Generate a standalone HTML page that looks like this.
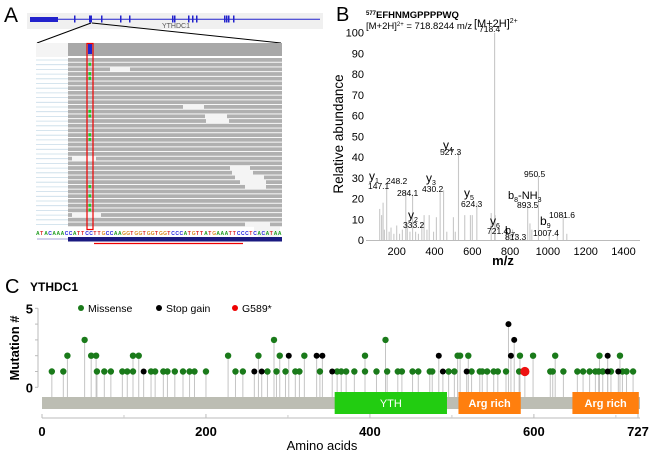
<!DOCTYPE html>
<html><head><meta charset="utf-8"><style>
html,body{margin:0;padding:0;background:#fff;}
svg{display:block;font-family:"Liberation Sans",Arial,sans-serif;}
</style></head><body>
<svg id="fig" width="650" height="457" viewBox="0 0 650 457" xmlns="http://www.w3.org/2000/svg">
<!-- Panel A -->
<g id="panelA">
<text x="4" y="22" font-size="21">A</text>
<rect x="27" y="13" width="296" height="16" fill="#f0f0f0"/>
<line x1="30" y1="19.3" x2="320" y2="19.3" stroke="#2222cc" stroke-width="1"/>
<rect x="30" y="17" width="28" height="5" fill="#2222cc"/>
<g id="exons"></g>
<text x="176" y="28" font-size="7" fill="#555" text-anchor="middle">YTHDC1</text>
<line x1="91" y1="23" x2="37" y2="43" stroke="#000" stroke-width="1"/>
<line x1="92" y1="23" x2="281" y2="43" stroke="#000" stroke-width="1"/>
<rect x="36" y="43" width="32" height="14" fill="#f4f4f4"/>
<rect x="68" y="43" width="214" height="13" fill="#a8a8a8"/>
<rect x="88" y="44" width="4" height="10" fill="#2222cc"/>
<g id="reads"></g>
<g id="seq"></g>
<rect x="68" y="237" width="214" height="4.5" fill="#1a1a80"/>
<line x1="37" y1="239" x2="68" y2="239" stroke="#8888cc" stroke-width="0.8"/>
<rect x="87" y="43.5" width="6" height="186" fill="none" stroke="#e00" stroke-width="1.2"/>
<line x1="94" y1="243.5" x2="243" y2="243.5" stroke="#e00" stroke-width="1.2"/>
</g>
<!-- Panel B -->
<g id="panelB">
<text x="336" y="21" font-size="20">B</text>
<text x="366" y="18" font-size="9.5" font-weight="bold"><tspan font-size="6" dy="-3">577</tspan><tspan dy="3">EFHNMGPPPPWQ</tspan></text>
<text x="366" y="29" font-size="9.5">[M+2H]<tspan font-size="6" dy="-3">2+</tspan><tspan dy="3"> = 718.8244 m/z</tspan></text>
<g id="peaks"></g>
<g id="baxes"></g>
<text transform="translate(343,134) rotate(-90)" font-size="13.5" text-anchor="middle">Relative abundance</text>
<text x="503" y="265" font-size="13" font-weight="bold" text-anchor="middle">m/z</text>
<g font-size="11">
<text x="474" y="27" font-size="11">[M+2H]<tspan font-size="7" dy="-4">2+</tspan></text>
<text x="479" y="32" font-size="8.5">718.4</text>
<text x="443" y="149" font-size="12">y<tspan font-size="7" dy="3">4</tspan></text>
<text x="440" y="155" font-size="8.5">527.3</text>
<text x="369" y="180" font-size="12">y<tspan font-size="7" dy="3">1</tspan></text>
<text x="368" y="189" font-size="8.5">147.1</text>
<text x="386" y="184" font-size="8.5">248.2</text>
<text x="397" y="196" font-size="8.5">284.1</text>
<text x="426" y="182" font-size="12">y<tspan font-size="7" dy="3">3</tspan></text>
<text x="422" y="192" font-size="8.5">430.2</text>
<text x="464" y="197" font-size="12">y<tspan font-size="7" dy="3">5</tspan></text>
<text x="461" y="207" font-size="8.5">624.3</text>
<text x="408" y="219" font-size="12">y<tspan font-size="7" dy="3">2</tspan></text>
<text x="403" y="228" font-size="8.5">333.2</text>
<text x="524" y="177" font-size="8.5">950.5</text>
<text x="508" y="199" font-size="11">b<tspan font-size="7" dy="3">8</tspan><tspan dy="-3">-NH</tspan><tspan font-size="7" dy="3">3</tspan></text>
<text x="517" y="208" font-size="8.5">893.5</text>
<text x="490" y="225" font-size="12">y<tspan font-size="7" dy="3">6</tspan></text>
<text x="487" y="234" font-size="8.5">721.4</text>
<text x="505" y="234" font-size="11">b<tspan font-size="7" dy="3">7</tspan></text>
<text x="505" y="240" font-size="8.5">813.3</text>
<text x="540" y="225" font-size="12">b<tspan font-size="7" dy="3">9</tspan></text>
<text x="533" y="236" font-size="8.5">1007.4</text>
<text x="549" y="218" font-size="8.5">1081.6</text>
</g>
</g>
<!-- Panel C -->
<g id="panelC">
<text x="5" y="293" font-size="20">C</text>
<text x="30" y="291" font-size="12" font-weight="bold">YTHDC1</text>
<text transform="translate(19,348) rotate(-90)" font-size="13" font-weight="bold" text-anchor="middle">Mutation #</text>
<g id="caxes"></g>
<rect x="42" y="397" width="598" height="12" fill="#bcbdb3"/>
<g id="lollis"></g>
<g id="domains"></g>
<g font-size="10.5">
<circle cx="81" cy="308" r="3" fill="#1a7a1a"/>
<text x="88" y="312">Missense</text>
<circle cx="159" cy="308" r="3" fill="#000"/>
<text x="166" y="312">Stop gain</text>
<circle cx="235" cy="308" r="3" fill="#e00"/>
<text x="242" y="312">G589*</text>
</g>
<text x="322" y="450" font-size="13" text-anchor="middle">Amino acids</text>
</g>
</svg>
<script>
const NS="http://www.w3.org/2000/svg";
function mk(tag,attrs,parent){const e=document.createElementNS(NS,tag);for(const k in attrs)e.setAttribute(k,attrs[k]);parent.appendChild(e);return e;}
// ---------- Panel B data ----------
const mzValues=[110,120,128,135,147,160,170,185,200,215,230,248,256,270,284,300,315,333,345,360,372,395,410,430,448,465,500,510,527,560,590,600,624,700,718,721,780,800,813,830,893,905,915,950,1007,1050,1081,1100];
const intensities=[15,12,18,5,25,4,6,3,7,3,5,24,8,4,22,4,3,8,12,5,12,4,11,23,24,4,11,4,43,12,12,12,18,13,100,12,5,4,5,3,16,8,5,31,4,5,12,3];
const bYTicks=[0,10,20,30,40,50,60,70,80,90,100];
const bXTicks=[200,400,600,800,1000,1200,1400];
const bx=mz=>396.7+(mz-200)*0.189;
const by=v=>240-v*2.073;
const peaks=document.getElementById('peaks');
for(let i=0;i<mzValues.length;i++){
  const l=mk('line',{x1:bx(mzValues[i]),x2:bx(mzValues[i]),y1:240,y2:by(intensities[i]),stroke:'#c8c8c8','stroke-width':1.1},peaks);
  
  
}
const baxes=document.getElementById('baxes');
const bxl=mk('line',{x1:366,x2:640,y1:240.5,y2:240.5,stroke:'#bbb','stroke-width':1},baxes);


bYTicks.forEach(t=>{
  const tx=mk('text',{x:364,y:by(t)+4,'font-size':11,'text-anchor':'end'},baxes);tx.textContent=t;
  
  
});
bXTicks.forEach(t=>{
  const tx=mk('text',{x:bx(t),y:255,'font-size':11,'text-anchor':'middle'},baxes);tx.textContent=t;
  
  
});
// ---------- Panel C data ----------
const missenseL1=[12,26,67,76,84,98,104,111,133,138,148,153,162,172,180,186,200,236,245,275,286,297,309,314,339,360,365,371,381,394,408,421,434,439,452,459,473,476,496,503,524,534,537,543,551,556,566,582,620,623,636,653,660,668,675,679,684,694,708,713,721];
const missenseL2=[31,60,66,111,118,227,264,290,320,394,507,510,520,583,599,626,680,705];
const missenseL3=[52,283,419];
const stopL1=[124,259,268,354,489,518,690,703];
const stopL2=[301,335,342,484,572,690];
const stopL3=[576];
const stopL4=[569];
const redPos=[589];
const redCount=[1];
const cXTicks=[0,200,400,600,727];
const cMinorTicks=[100,300,500,700];
const cYTicks=[0,1,2,3,4,5];
const domainNames=['YTH','Arg rich','Arg rich'];
const domainStart=[357,508,647];
const domainEnd=[494,584,728];
const domainColors=['#22cc11','#ff7f0e','#ff7f0e'];
const cx=aa=>42+aa*(596/727);
const cy=v=>387.3-v*15.8;
const caxes=document.getElementById('caxes');
const cyl=mk('line',{x1:38,x2:38,y1:cy(5),y2:cy(0),stroke:'#bbb','stroke-width':1},caxes);


cYTicks.forEach(t=>{
  const tk=mk('line',{x1:35,x2:38,y1:cy(t),y2:cy(t),stroke:'#bbb'},caxes);
  
  
  if(t===0||t===5){const tx=mk('text',{x:33,y:cy(t)+5,'font-size':13,'font-weight':'bold','text-anchor':'end'},caxes);tx.textContent=t;
  
  }
});
const cxl=mk('line',{x1:42,x2:640,y1:418,y2:418,stroke:'#bbb','stroke-width':1},caxes);


cXTicks.forEach(t=>{
  const tk=mk('line',{x1:cx(t),x2:cx(t),y1:414,y2:418,stroke:'#bbb'},caxes);
  
  
  const tx=mk('text',{x:cx(t),y:436,'font-size':13,'font-weight':'bold','text-anchor':'middle'},caxes);tx.textContent=t;
  
  
});
cMinorTicks.forEach(t=>{
  const tk=mk('line',{x1:cx(t),x2:cx(t),y1:415,y2:418,stroke:'#ccc'},caxes);
  
  
});
const dom=document.getElementById('domains');
for(let i=0;i<domainNames.length;i++){
  const r=mk('rect',{x:cx(domainStart[i]),y:392,width:cx(domainEnd[i])-cx(domainStart[i]),height:22,fill:domainColors[i]},dom);
  
  
  const tx=mk('text',{x:(cx(domainStart[i])+cx(domainEnd[i]))/2,y:407,'font-size':11,fill:'#fff','text-anchor':'middle','font-weight':i?'bold':'normal'},dom);tx.textContent=domainNames[i];
  
  
}
const lol=document.getElementById('lollis');
function draw(arr,level,color,r,name){
  arr.forEach(aa=>{
    const s=mk('line',{x1:cx(aa),x2:cx(aa),y1:397,y2:cy(level),stroke:'#c4c4c4','stroke-width':1},lol);
    
    
  });
  arr.forEach(aa=>{
    const c=mk('circle',{cx:cx(aa),cy:cy(level),r:r,fill:color},lol);
    
    
  });
}
draw(stopL4,4,'#000',3,'stop-gain-dot');
draw(stopL3,3,'#000',3,'stop-gain-dot');
draw(missenseL3,3,'#1a7a1a',3.2,'missense-dot');
draw(missenseL2,2,'#1a7a1a',3.2,'missense-dot');
draw(stopL2,2,'#000',3,'stop-gain-dot');
draw(missenseL1,1,'#1a7a1a',3.2,'missense-dot');
draw(stopL1,1,'#000',3,'stop-gain-dot');
redPos.forEach((aa,i)=>{
  const s=mk('line',{x1:cx(aa),x2:cx(aa),y1:397,y2:cy(redCount[i]),stroke:'#c4c4c4'},lol);
  
  
  const c=mk('circle',{cx:cx(aa),cy:cy(redCount[i]),r:4.6,fill:'#ee1111'},lol);
  
  
});
// ---------- Panel A decoration ----------
const exonX=[74,89,101,120,129,172,174,188,192,196,224,226,228,233];
const ex=document.getElementById('exons');
exonX.forEach(x=>{
  const r=mk('rect',{x:x,y:15.5,width:x===89?3:1.5,height:7,fill:'#2222cc'},ex);
  
  
});
const reads=document.getElementById('reads');
for(let i=0;i<36;i++){
  const y=58+i*4.7;
  const bl=mk('line',{x1:36,x2:68,y1:y+2,y2:y+2,stroke:'#c8dce8','stroke-width':0.8},reads);
  
  
  const r=mk('rect',{x:68,y:y,width:214,height:3.8,fill:'#b0b0b0'},reads);
  
  
}
[[1,110,130],[9,183,204],[11,205,227],[12,206,229],[20,72,96],[22,230,250],[23,232,253],[24,235,264],[25,240,266],[26,245,266],[32,72,101],[34,245,270],[35,254,280],[36,258,279],[37,258,279]].forEach(g=>{
  const w=mk('rect',{x:g[1],y:58+(g[0]+1)*4.7-0.5,width:g[2]-g[1],height:4.8,fill:'#f4f4f4'},reads);
  
  
});
[1,27,39,40,65,76,88,89,119,120,139,140].forEach(k=>{
  const g=mk('rect',{x:88.5,y:58+(k%36)*4.7,width:2.5,height:3,fill:'#22cc22'},reads);
  
  
});
const seqStr="ATACAAACCATTCCTTGCCAAGGTGGTGGTGGTCCCATGTTATGAAATTCCCTCACATAA";
const seqG=document.getElementById('seq');
const colors={A:'#1a9a1a',C:'#2222dd',G:'#d98a20',T:'#dd2222'};
for(let i=0;i<seqStr.length;i++){
  const t=mk('text',{x:36+i*(246/seqStr.length),y:235,'font-size':5,'font-weight':'bold',fill:colors[seqStr[i]]},seqG);
  t.textContent=seqStr[i];
  
  
}
</script>
</body></html>
